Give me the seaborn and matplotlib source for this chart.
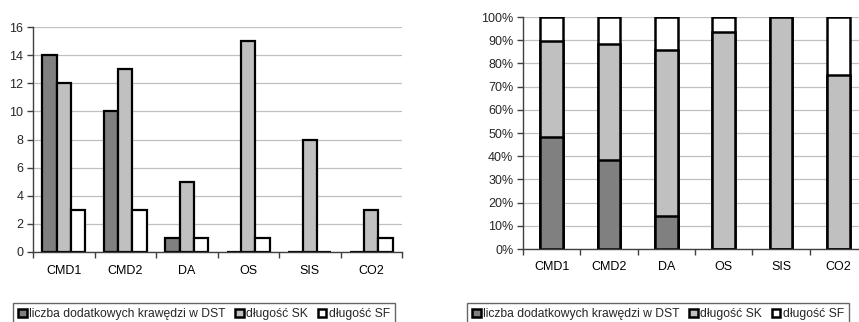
import numpy as np
import pandas as pd
import seaborn as sns
import matplotlib.pyplot as plt
from matplotlib.patches import Patch
from matplotlib.ticker import PercentFormatter, FixedLocator

# data
categories = ["CMD1", "CMD2", "DA", "OS", "SIS", "CO2"]
series = ["liczba dodatkowych krawędzi w DST", "długość SK", "długość SF"]
dst = [14, 10, 1, 0, 0, 0]
sk = [12, 13, 5, 15, 8, 3]
sf = [3, 3, 1, 1, 0, 1]
colors = ["#808080", "#c0c0c0", "#ffffff"]

sns.set_theme(style="white")
plt.rcParams["font.family"] = ["Liberation Sans", "DejaVu Sans"]
plt.rcParams["font.size"] = 9

fig = plt.figure(figsize=(8.59, 3.22), dpi=100)
W, H = 859, 322


def px_axes(x0, y0, x1, y1):
    return fig.add_axes([x0 / W, 1 - y1 / H, (x1 - x0) / W, (y1 - y0) / H])


def style_axes(ax):
    ax.set_xlabel("")
    ax.set_ylabel("")
    for s in ["top", "right"]:
        ax.spines[s].set_visible(False)
    for s in ["left", "bottom"]:
        ax.spines[s].set_color("#404040")
        ax.spines[s].set_linewidth(1.0)
    ax.yaxis.grid(True, color="#c0c0c0", linewidth=0.9)
    ax.set_axisbelow(True)
    ax.set_xlim(-0.5, len(categories) - 0.5)
    ax.xaxis.set_minor_locator(FixedLocator(np.arange(-0.5, len(categories), 1)))
    ax.tick_params(axis="x", which="major", length=0, pad=9, labelsize=9, colors="black")
    ax.tick_params(axis="x", which="minor", length=4, width=1, color="#404040", bottom=True)
    ax.tick_params(axis="y", which="major", length=4, width=1, color="#404040",
                   left=True, labelsize=9, pad=3)


def add_legend(x0, y0):
    handles = [Patch(facecolor=c, edgecolor="black", linewidth=1.8) for c in colors]
    fig.legend(handles, series, loc="upper left",
               bbox_to_anchor=(x0 / W, 1 - y0 / H), ncol=3, frameon=True,
               fancybox=False, edgecolor="#404040", fontsize=8.7,
               handlelength=0.7, handleheight=0.7, handletextpad=0.2,
               columnspacing=0.8, borderpad=0.45, borderaxespad=0)


# left: grouped bars
df = pd.DataFrame({
    "cat": categories * 3,
    "serie": sum([[s] * len(categories) for s in series], []),
    "val": dst + sk + sf,
})
ax1 = px_axes(33, 27, 402, 252)
sns.barplot(data=df, x="cat", y="val", hue="serie", hue_order=series,
            palette=colors, edgecolor="black", linewidth=1.6, width=0.7,
            gap=0, legend=False, ax=ax1)
ax1.set_ylim(0, 16)
ax1.set_yticks(range(0, 17, 2))
style_axes(ax1)
add_legend(13, 303)

# right: 100% stacked bars (drawn as cumulative layers)
tot = np.array(dst) + np.array(sk) + np.array(sf)
share_top = np.array(tot) / tot
share_mid = (np.array(dst) + np.array(sk)) / tot
share_low = np.array(dst) / tot
ax2 = px_axes(523, 17, 867, 249)
for vals, c in zip([share_top, share_mid, share_low], colors[::-1]):
    sns.barplot(x=categories, y=vals, color=c, edgecolor="black",
                linewidth=1.8, width=0.4, ax=ax2)
ax2.set_ylim(0, 1)
ax2.set_yticks(np.arange(0, 1.01, 0.1))
ax2.yaxis.set_major_formatter(PercentFormatter(1.0, decimals=0))
style_axes(ax2)
add_legend(467, 303)

fig.savefig("out.png", dpi=100)
